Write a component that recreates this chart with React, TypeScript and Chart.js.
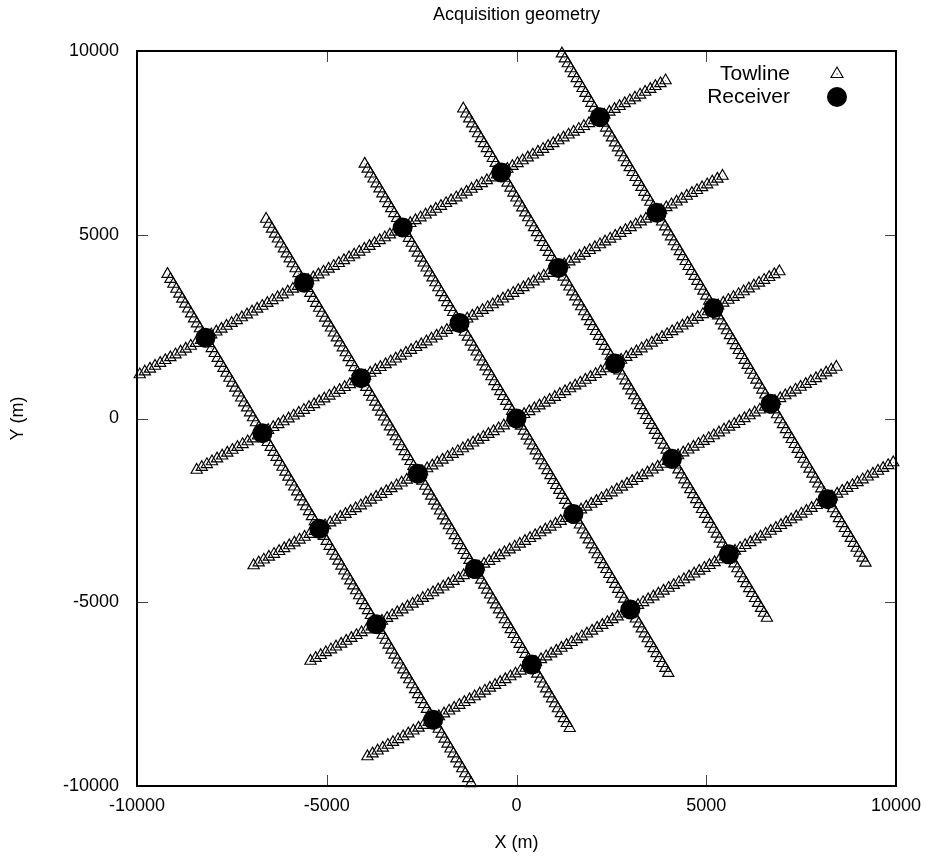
import React, { useEffect, useRef } from "react";
import { Chart, registerables } from "chart.js";

Chart.register(...registerables);

// ---- Data ----
const chartTitle = "Acquisition geometry";
const xAxisTitle = "X (m)";
const yAxisTitle = "Y (m)";
const axisTicks = [-10000, -5000, 0, 5000, 10000];

// Receiver positions (5 x 5 rotated grid)
const receiverX = [
  -2196, -3696, -5196, -6696, -8196,
  402, -1098, -2598, -4098, -5598,
  3000, 1500, 0, -1500, -3000,
  5598, 4098, 2598, 1098, -402,
  8196, 6696, 5196, 3696, 2196,
];
const receiverY = [
  -8196, -5598, -3000, -402, 2196,
  -6696, -4098, -1500, 1098, 3696,
  -5196, -2598, 0, 2598, 5196,
  -3696, -1098, 1500, 4098, 6696,
  -2196, 402, 3000, 5598, 8196,
];

// Towlines: first and last shot of each line, and shot interval (m)
const towlineStartX = [-9928, -8428, -6928, -5428, -3928, -9196, -6598, -4000, -1402, 1196];
const towlineStartY = [1196, -1402, -4000, -6598, -9196, 3928, 5428, 6928, 8428, 9928];
const towlineEndX = [3928, 5428, 6928, 8428, 9928, -1196, 1402, 4000, 6598, 9196];
const towlineEndY = [9196, 6598, 4000, 1402, -1196, -9928, -8428, -6928, -5428, -3928];
const shotInterval = 155;

function buildShots() {
  const pts: { x: number; y: number }[] = [];
  for (let i = 0; i < towlineStartX.length; i++) {
    const dx = towlineEndX[i] - towlineStartX[i];
    const dy = towlineEndY[i] - towlineStartY[i];
    const len = Math.hypot(dx, dy);
    const n = Math.round(len / shotInterval);
    for (let k = 0; k <= n; k++) {
      pts.push({ x: towlineStartX[i] + (dx * k) / n, y: towlineStartY[i] + (dy * k) / n });
    }
  }
  return pts;
}

const FONT = "'Liberation Sans', Arial, Helvetica, sans-serif";

const framePlugin = {
  id: "gnuplotFrame",
  afterDraw(chart: any) {
    const { ctx, chartArea } = chart;
    const { left, right, top, bottom } = chartArea;
    const xs = chart.scales.x;
    const ys = chart.scales.y;
    const tl = 11;
    ctx.save();
    // inward mirrored ticks
    ctx.strokeStyle = "#444";
    ctx.lineWidth = 1;
    ctx.beginPath();
    for (const v of axisTicks) {
      const px = Math.round(xs.getPixelForValue(v)) + 0.5;
      ctx.moveTo(px, bottom);
      ctx.lineTo(px, bottom - tl);
      ctx.moveTo(px, top);
      ctx.lineTo(px, top + tl);
      const py = Math.round(ys.getPixelForValue(v)) + 0.5;
      ctx.moveTo(left, py);
      ctx.lineTo(left + tl, py);
      ctx.moveTo(right, py);
      ctx.lineTo(right - tl, py);
    }
    ctx.stroke();
    // border
    ctx.strokeStyle = "#000";
    ctx.lineWidth = 2;
    ctx.strokeRect(left, top, right - left, bottom - top);

    // title
    ctx.fillStyle = "#000";
    ctx.font = `18px ${FONT}`;
    ctx.textAlign = "center";
    ctx.textBaseline = "middle";
    ctx.fillText(chartTitle, (left + right) / 2, 15);

    // legend (gnuplot style: text then symbol)
    ctx.font = `21px ${FONT}`;
    ctx.textAlign = "right";
    const textRight = right - 106;
    const symX = right - 59;
    const y1 = top + 23;
    const y2 = top + 46;
    ctx.fillText("Towline", textRight, y1);
    ctx.fillText("Receiver", textRight, y2);
    const r = 7;
    ctx.lineWidth = 1.1;
    ctx.strokeStyle = "#000";
    ctx.beginPath();
    ctx.moveTo(symX, y1 - r);
    ctx.lineTo(symX + (r * Math.sqrt(3)) / 2, y1 + r / 2);
    ctx.lineTo(symX - (r * Math.sqrt(3)) / 2, y1 + r / 2);
    ctx.closePath();
    ctx.stroke();
    ctx.fillRect(symX - 0.5, y1 - 0.5, 1, 1);
    ctx.beginPath();
    ctx.arc(symX, y2, 10, 0, Math.PI * 2);
    ctx.fill();
    ctx.restore();
  },
};

export default function App() {
  const ref = useRef<HTMLCanvasElement | null>(null);
  useEffect(() => {
    if (!ref.current) return;
    const shots = buildShots();
    const receivers = receiverX.map((x, i) => ({ x, y: receiverY[i] }));
    const chart = new Chart(ref.current, {
      type: "scatter",
      data: {
        datasets: [
          {
            label: "Receiver",
            data: receivers,
            order: 0,
            pointStyle: "circle",
            pointRadius: 10,
            pointHoverRadius: 10,
            backgroundColor: "#000",
            borderColor: "#000",
            borderWidth: 0,
            clip: false,
          } as any,
          {
            label: "Towline",
            data: shots,
            order: 1,
            pointStyle: "triangle",
            pointRadius: 6.5,
            pointHoverRadius: 6.5,
            backgroundColor: "rgba(0,0,0,0)",
            borderColor: "#000",
            borderWidth: 1.15,
            clip: false,
          } as any,
          {
            label: "dots",
            data: shots,
            order: 2,
            pointStyle: "rect",
            pointRadius: 0.5,
            backgroundColor: "#333",
            borderWidth: 0,
            clip: false,
          } as any,
        ],
      },
      options: {
        animation: false,
        responsive: false,
        events: [],
        layout: { padding: { top: 51, right: 36, left: 0, bottom: 0 } },
        plugins: {
          legend: { display: false },
          title: { display: false },
          tooltip: { enabled: false },
        },
        scales: {
          x: {
            type: "linear",
            min: -10000,
            max: 10000,
            afterBuildTicks: (s: any) => {
              s.ticks = axisTicks.map((v) => ({ value: v }));
            },
            afterFit: (s: any) => {
              s.height = 74;
            },
            grid: { display: false, drawTicks: false },
            border: { display: false },
            ticks: {
              color: "#000",
              padding: 9,
              autoSkip: false,
              maxRotation: 0,
              font: { family: FONT, size: 18 },
              callback: (v: any) => String(v),
            },
            title: {
              display: true,
              text: xAxisTitle,
              color: "#000",
              font: { family: FONT, size: 18 },
              padding: { top: 0, bottom: 6 },
            },
          },
          y: {
            type: "linear",
            min: -10000,
            max: 10000,
            afterBuildTicks: (s: any) => {
              s.ticks = axisTicks.map((v) => ({ value: v }));
            },
            afterFit: (s: any) => {
              s.width = 137;
            },
            grid: { display: false, drawTicks: false },
            border: { display: false },
            ticks: {
              color: "#000",
              padding: 18,
              autoSkip: false,
              font: { family: FONT, size: 18 },
              callback: (v: any) => String(v),
            },
            title: {
              display: true,
              text: yAxisTitle,
              color: "#000",
              font: { family: FONT, size: 18 },
              padding: { top: 7, bottom: 0 },
            },
          },
        },
      },
      plugins: [framePlugin],
    });
    return () => chart.destroy();
  }, []);

  return (
    <div style={{ position: "absolute", left: 0, top: 0, width: 932, height: 860, background: "#fff" }}>
      <canvas ref={ref} width={932} height={860} style={{ width: 932, height: 860, display: "block" }} />
    </div>
  );
}
